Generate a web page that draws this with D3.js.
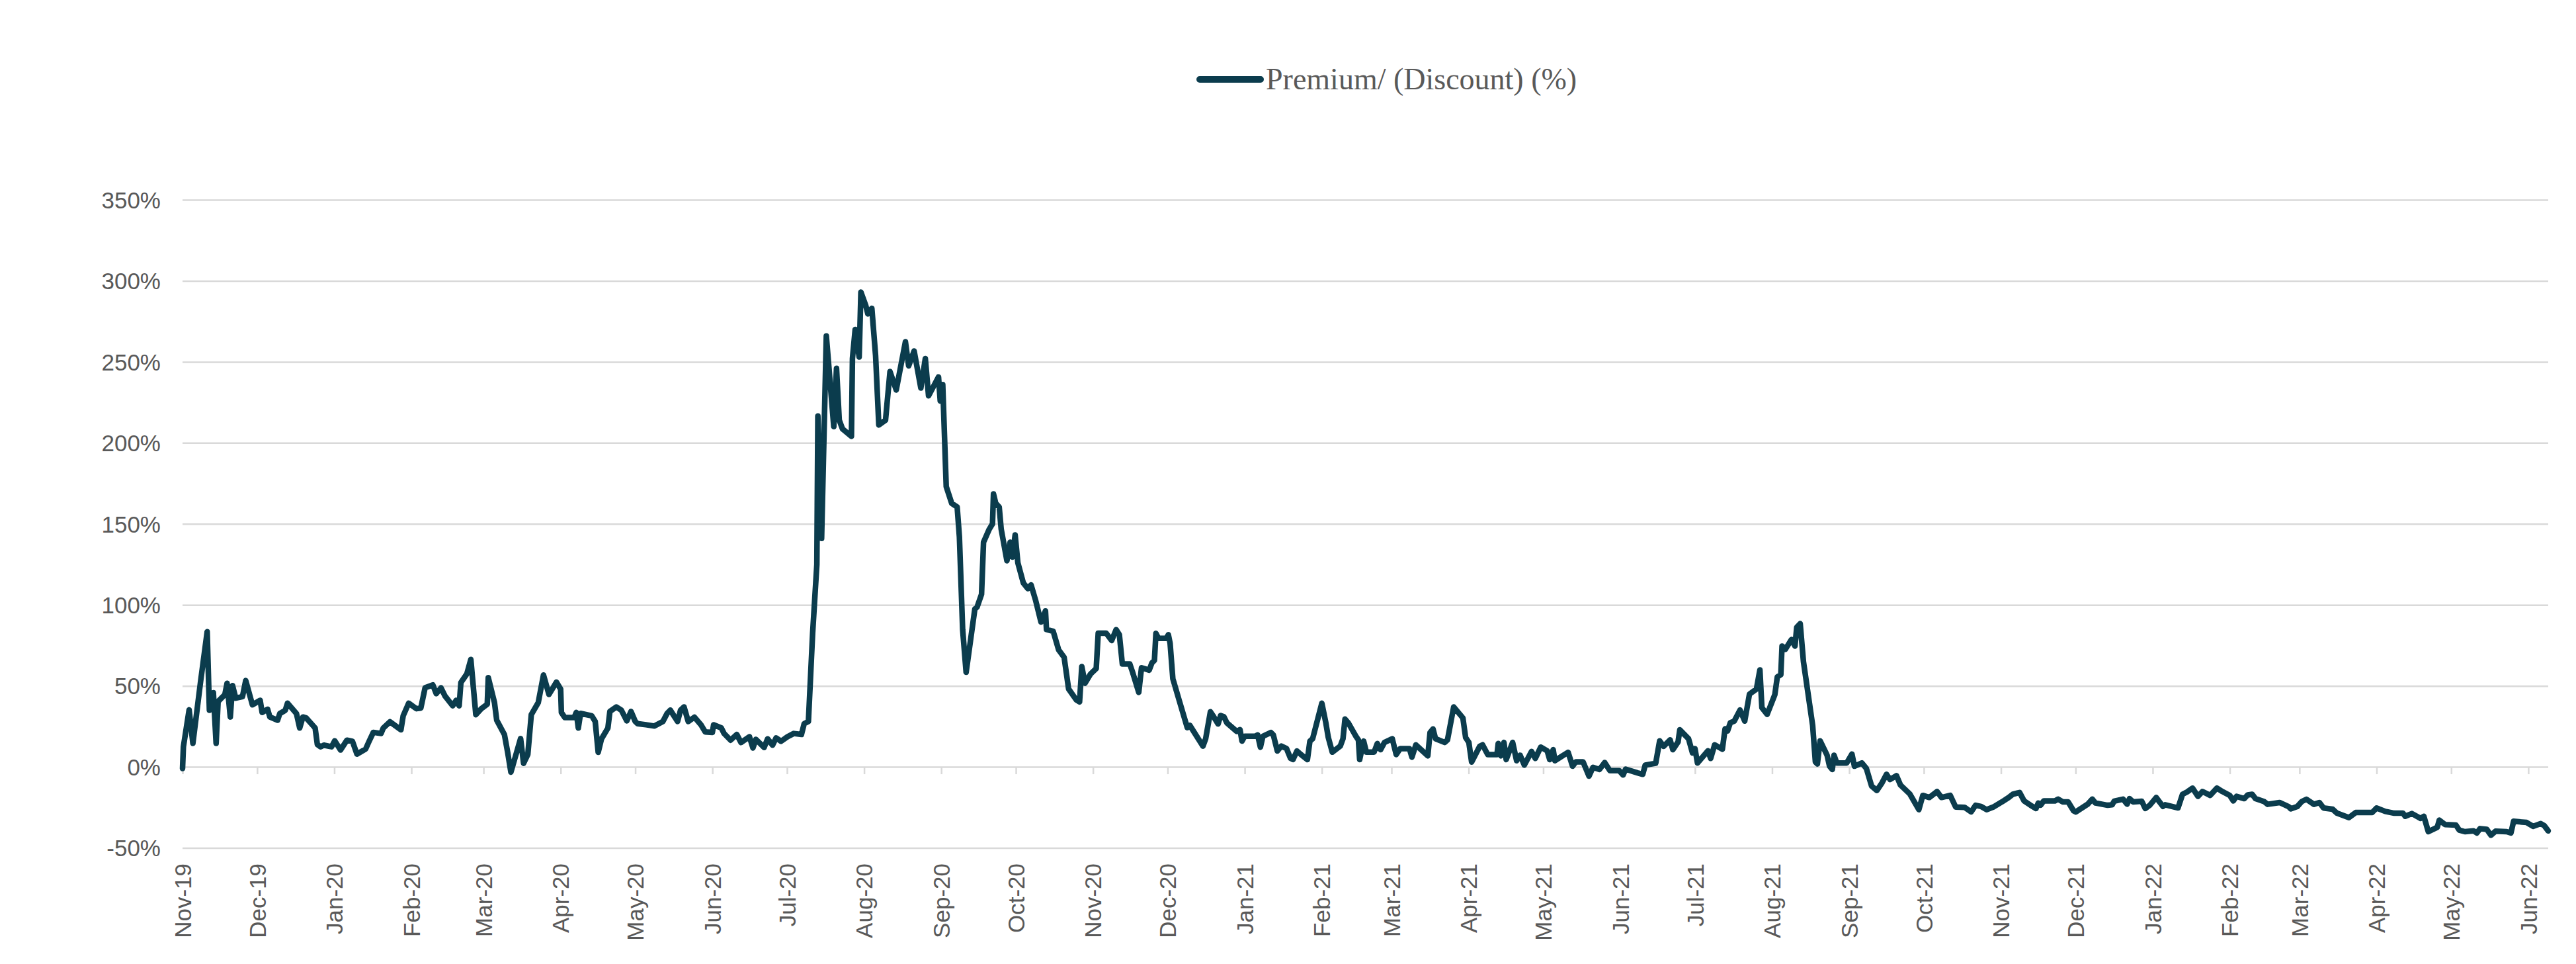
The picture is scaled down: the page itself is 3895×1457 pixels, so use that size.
<!DOCTYPE html>
<html>
<head>
<meta charset="utf-8">
<script src="https://cdn.jsdelivr.net/npm/d3@7/dist/d3.min.js"></script>
<style>
  html, body { margin: 0; padding: 0; background: #ffffff; }
  svg { display: block; }
</style>
</head>
<body>
<svg id="chart" width="3895" height="1457"></svg>
<script>
// ---------------- DATA ----------------
const seriesName = "Premium/ (Discount) (%)";
const startDate = "2019-11-01";
const endDay = 951;

// days elapsed since startDate for each observation
const dayOffsets = [
  0, 0.35, 2.65, 4.16, 7.26, 9.91, 10.8, 12.4, 13.5, 14.3, 17, 17.9, 19.2, 20.1, 21.4, 24.1, 25.4, 28.1, 31.2, 32,
  34.2, 35.1, 38.2, 39.1, 41.3, 42.2, 45.8, 47.1, 48.4, 49.7, 53.3, 54.2, 55.5, 56.8, 59.9, 61.2, 63.5, 66.1, 68.3, 70.1,
  73.6, 75, 76.7, 79.8, 80.7, 83.4, 87.8, 88.7, 90.9, 94, 95.8, 97.5, 100.6, 102, 103.9, 105.5, 108.6, 110, 111.2, 111.9,
  114.3, 115.9, 117.9, 120.1, 122.5, 122.9, 125.4, 126.3, 129.4, 130.7, 132, 133.8,
  135.9, 137.1, 138.8, 140.2, 143, 145.1, 147.3, 150.3, 152, 152.3, 153.7, 157.4, 158.3, 159.1, 160, 164.5, 165.9, 167.1,
  168.4, 171, 171.8, 174.4, 176.4, 178.6, 180.3, 182, 182.9, 186.3, 189.7, 193.1, 194.8, 196.1, 199, 200.2, 201.6, 203.3,
  205.8, 208.4, 210.1, 213, 213.5, 216.6, 217.7, 220.3, 222.8, 224.5, 227.9, 229.3, 230.5, 233.8, 235.2, 237.2, 238.6, 240.6,
  243.2, 245.7, 248.8, 249.9, 251.6,
  253.3, 255.0, 255.4, 256.9, 258.8, 261.8, 262.9, 264, 265.3, 268.9, 269.3, 270.4, 272, 272.7, 274.6, 275.5, 277.1, 278.6,
  279.9, 282.6, 284.4, 286.9, 290.6, 291.9, 294.1, 296.8, 298.6, 299.9, 303.9, 304.6, 305.6, 307, 309.2, 311.4, 312.3, 313.6,
  315, 318.5, 319.4, 321.2, 322, 324.3, 325.6, 326, 326.9, 328.3, 329.1, 331.4, 332.7, 333.6, 334.7, 335.8, 338, 339.8,
  341.1, 342.9, 345.1, 346.9, 347.3, 350, 352.2, 354.4, 356.2, 359.3, 360.6, 361.5, 362.8, 365, 367.3, 368.1, 371.3, 373.5,
  375.3, 376.6, 377.8, 380.8, 381.8, 384.4, 385.5, 388.6, 389.7, 390.7, 391.3, 392.3, 395.5, 396.3, 397, 398.1, 400.7, 403.9,
  404.9, 410.2, 411.3, 413.2, 414.5, 416.3, 417.3, 418.6, 419.8, 423.8, 425.1, 425.9, 427, 431.2, 432.2, 433.3, 434.3, 437.5,
  438.5, 440.1, 441.7, 443.8, 445.4, 446.4, 448, 449.6, 452.2, 453.2, 454.3, 458, 459.6, 460.6, 462.2, 465.4, 466.5, 467.3,
  468.6, 471.7, 472.7, 473.2, 474.8, 475.9, 479, 480.3, 481.6, 483.2, 486.3, 487.9, 489.5, 493.2, 494.2, 495.8, 500.6, 501.5,
  502.7, 503.7, 507.4, 508.5, 511, 514.7, 515.8, 517.1, 518.2, 521.5, 522.6, 524.7, 528.4, 528.9, 530, 531.2, 532.1, 534.7,
  536.3, 537.7, 539.4, 542.3, 543.8, 546, 548.6, 549.6, 551, 551.7, 553.8, 557, 558.8, 560.1, 563, 565.4, 567, 569.6,
  571.7, 573.8, 577.5, 579.1, 580.1, 584.9, 587, 588, 592.2, 593.8, 595.4, 598, 599.1, 601.2, 601.9, 605.4, 607, 608,
  609, 613.2, 614.3, 615.9, 619, 620.1, 621.1, 622.2, 623.8, 626.1, 628, 629.9, 632.7, 634.1, 634.9, 637, 640.1, 641.1,
  642.5, 643, 644.3, 646.8, 648.2, 648.9, 650.3, 651.6, 655.3, 656.4, 657.2, 658.3, 661.1, 662.1, 663.2, 663.9, 665, 669,
  671.1, 672.1, 675.1, 676.9, 679, 681.1, 683.2, 685, 686.4, 689, 690.6, 694.3,
  698, 699.6, 702.2, 705.3, 707.1, 710.6, 712.8, 716.4, 719, 720.8, 723, 725.2, 727.9, 731.4, 734.1, 735.8, 738.5, 740.3,
  742.9, 745.1, 746, 746.9, 748.2, 752.7, 754, 755.8, 758, 760.2, 761.1, 765.9, 767.7, 769, 773.9, 775.7, 776.5, 780.1,
  781.7, 782.7, 784.1, 787.6, 789, 790.8, 793.4, 796.1, 797, 802.2, 804, 805.8, 808, 810.2, 812, 815.1, 817.8, 820,
  823, 824.4, 825.7, 828.8,
  830.2, 832, 833.3, 836.8, 838.2, 843, 846.6, 847.5, 850.1, 851.9, 853.8, 856.8, 859, 860.7, 864.3, 866.1, 870.9, 873.6,
  880.2, 882, 885.5, 889.1, 892.6, 893.5, 896.2, 899.7, 901, 902.8, 906.4, 907.2, 909.5, 913.9, 915.2, 917.5, 921, 922.3,
  923.6, 926.3, 928, 929.8, 934.3, 936, 937.1, 942.3, 944.9, 948, 949.4, 951
];

// Premium/(Discount) in %
const premium = [
  -1, 12.4, 35.2, 14.5, 52.7, 83.4, 34.9, 45.8, 14.5, 40.4, 44.5, 51.6, 30.8, 50.2, 42.4, 43.4, 53.3, 38.3, 41.1, 33.6,
  35.6, 30.8, 28.8, 32.9, 34.9, 39.3, 32.9, 24, 30.8, 30.2, 24, 13.8, 12.4, 13.4, 12.4, 16.1, 10.4, 16.5, 15.8, 7.9,
  11, 15.8, 21.3, 20.6, 24, 27.8, 22.9, 31.5, 39.3, 35.9, 36.3, 48.8, 50.6, 45.2, 48.8, 43.8, 37.7, 41.1, 37.7, 52,
  57.4, 66.3, 32.2, 35.9, 38.7, 55.1, 39.7, 28.8, 19.9, 9, -3.3, 6.3,
  17.5, 2.2, 7.6, 32.2, 39.7, 56.7, 44.7, 52.3, 48, 33.6, 30.4, 30.4, 33.6, 24, 33, 31.5, 28, 9,
  17.2, 24, 34.2, 37, 35, 28.4, 34.2, 28, 26.7, 26, 25.2, 28, 33, 35, 28, 35, 37, 28,
  30.7, 26, 21.6, 21.3, 26, 24, 20.6, 16.5, 20, 15, 18.6, 11.7, 17, 12, 17.3, 13.4, 17.9, 15.8,
  18.6, 20.6, 20, 26.7, 28,
  82.5, 125, 216.6, 141, 266, 210, 246, 214, 208.6, 204, 252, 270, 253, 293, 285, 279.6, 283, 254,
  211, 214, 244, 232.6, 262.4, 247.5, 256.7, 233.8, 252, 229, 240.7, 225.8, 236, 173, 162.7, 160.4, 142, 84.8,
  58.4, 97.4, 98.6, 106.6, 138.7, 146.7, 150, 168.5, 162.7, 160.4, 146.7, 127.2, 138.7, 129.5, 143.2, 126, 113.5, 110,
  112.3, 103, 89.4, 96.3, 84.8, 83.7, 72.2, 67.6, 48.1, 41.3, 40.1, 61.9, 51.6, 57.3, 60.7, 82.5, 82.5, 78,
  84.7, 81.6, 63.5, 63.5, 59, 46, 61.2, 59.7, 64.2, 65.8, 82.4, 79.4, 79.4, 81.6, 76.3, 54.4, 40.8, 24.2,
  25.7, 12.8, 17.4, 34, 31, 26.5, 31.7, 31, 27.2, 21.9, 23, 15.9, 18.9, 18.9, 19.7, 12.1, 18.9, 21.2,
  19.7, 9.8, 12.8, 11.3, 5.3, 4.5, 9.8, 7.6, 4.5, 15.9, 17.4, 39.3, 27.2, 18.1, 9.1, 12.8, 17.4, 29.5,
  27.2, 18.9, 16.6, 4.5, 15.9, 9.1, 9.1, 14.4, 10.6, 15.1, 17.4, 7.6, 11.3, 11.3, 6, 13.6, 6.8, 21.2,
  23.4, 17.4, 15.1, 16.6, 37, 30.2, 18.1, 15.1, 3, 12.8, 13.6, 7.6, 7.6, 14.4, 6.8, 15.1, 4.5, 15.1,
  3.8, 7.2, 1.1, 9.5, 5.2, 12.2, 9.9, 4.5, 10.6, 3.8, 5.9, 9, 0.4, 3.1, 3.1, -5.7, -0.3, -1.6,
  2.7, -2.3, -2.3, -5, -1.4, -3.7, -4.6, 1.1, 2.2, 16.1, 12.7, 16.7, 10.6, 15.4, 22.9, 17.4, 8.6, 11.3,
  2.4, 9.9, 5.2, 13.6, 10.9, 23.5, 22.2, 27.2, 28.3, 35.1, 28.3, 44.9, 48, 59.9, 36.5, 32.4, 44.6, 55.5,
  56.9, 74.6, 72.5, 78.6, 74.6, 86.1, 88.4, 65, 25.6, 3.1, 1.8, 16.1, 7.2, 0.4, -1.6, 7.2, 2.4, 2.4,
  7.9, 0.4, 2.4, -1, -11.8, -14.6, -9.8, -4.6, -7.8, -5.4, -11.2, -16.6,
  -26.4, -17.6, -18.9, -15.2, -18.9, -17.6, -24.8, -25, -27.8, -23.7, -24.4, -26.4, -24.8, -21.6, -18.9, -16.9, -15.8, -21,
  -23.7, -25.7, -22.3, -23.7, -21, -21, -19.9, -21.6, -21.6, -27.1, -27.8, -23, -19.9, -22.3, -23.7, -23.4, -21.2, -19.9,
  -23, -19.6, -21.6, -21.2, -25.7, -23.7, -18.9, -24.4, -23.4, -25.3, -16.9, -15.5, -13.1, -18.2, -15.2, -17.6, -13.1, -15.2,
  -17.6, -21, -18.2, -19.6,
  -17.3, -16.9, -19.6, -21.4, -23.1, -22, -24.5, -25.9, -24.5, -21.4, -20, -23.1, -22, -25.4, -26.1, -28.6, -31.3, -28.2,
  -28.2, -25.4, -27.5, -28.6, -28.6, -30.5, -28.8, -31.8, -30.5, -40, -37.3, -32.9, -35.6, -35.9, -39, -40, -39.5, -40.8,
  -38.1, -38.6, -42.2, -39.7, -40, -40.8, -33.6, -34.3, -36.7, -35, -36.3, -39.5
];

const yTicks = [-50, 0, 50, 100, 150, 200, 250, 300, 350];
const xTickMonths = [
  "2019-11-01","2019-12-01","2020-01-01","2020-02-01","2020-03-01","2020-04-01","2020-05-01","2020-06-01",
  "2020-07-01","2020-08-01","2020-09-01","2020-10-01","2020-11-01","2020-12-01","2021-01-01","2021-02-01",
  "2021-03-01","2021-04-01","2021-05-01","2021-06-01","2021-07-01","2021-08-01","2021-09-01","2021-10-01",
  "2021-11-01","2021-12-01","2022-01-01","2022-02-01","2022-03-01","2022-04-01","2022-05-01","2022-06-01"
];

// ---------------- CHART ----------------
const DAY = 86400000;
const t0 = Date.parse(startDate + "T00:00:00Z");
const data = dayOffsets.map((d, i) => ({ date: new Date(t0 + d * DAY), value: premium[i] }));

const lineColor = "#0b3c4d";
const textColor = "#595959";
const gridColor = "#d9d9d9";

const plot = { left: 276, right: 3853, top: 302, bottom: 1281.5 };

const x = d3.scaleUtc()
  .domain([new Date(t0), new Date(t0 + endDay * DAY)])
  .range([plot.left, plot.right]);

const y = d3.scaleLinear()
  .domain([-50, 350])
  .range([plot.bottom, plot.top]);

const svg = d3.select("#chart");
svg.append("rect").attr("width", 3895).attr("height", 1457).attr("fill", "#ffffff");

// Y axis with gridlines
const yAxis = svg.append("g")
  .attr("transform", `translate(${plot.left},0)`)
  .call(d3.axisLeft(y)
    .tickValues(yTicks)
    .tickSize(-(plot.right - plot.left))
    .tickPadding(33)
    .tickFormat(d => d + "%"));
yAxis.select(".domain").remove();
yAxis.selectAll(".tick line")
  .attr("stroke", gridColor)
  .attr("stroke-width", 2.5);
yAxis.selectAll(".tick text")
  .attr("fill", textColor)
  .attr("font-family", "'Liberation Sans', Arial, sans-serif")
  .attr("font-size", 35)
  .attr("dy", "0.35em");

// X axis (crossing at 0%)
const xAxis = svg.append("g")
  .attr("transform", `translate(0,${y(0)})`)
  .call(d3.axisBottom(x)
    .tickValues(xTickMonths.map(s => new Date(Date.parse(s + "T00:00:00Z"))))
    .tickSize(11)
    .tickFormat(d3.utcFormat("%b-%y")));
xAxis.select(".domain").remove();
xAxis.selectAll(".tick line")
  .attr("stroke", gridColor)
  .attr("stroke-width", 2.5);
xAxis.selectAll(".tick text")
  .attr("fill", textColor)
  .attr("font-family", "'Liberation Sans', Arial, sans-serif")
  .attr("font-size", 35)
  .attr("text-anchor", "end")
  .attr("x", 0)
  .attr("y", 0)
  .attr("dy", "0.35em")
  .attr("transform", `translate(0,${1305 - y(0)}) rotate(-90)`);

// Line
const line = d3.line()
  .x(d => x(d.date))
  .y(d => y(d.value));

svg.append("path")
  .datum(data)
  .attr("d", line)
  .attr("fill", "none")
  .attr("stroke", lineColor)
  .attr("stroke-width", 8.5)
  .attr("stroke-linejoin", "round")
  .attr("stroke-linecap", "round");

// Legend
const legend = svg.append("g");
legend.append("line")
  .attr("x1", 1814).attr("x2", 1906)
  .attr("y1", 120).attr("y2", 120)
  .attr("stroke", lineColor)
  .attr("stroke-width", 10)
  .attr("stroke-linecap", "round");
legend.append("text")
  .attr("x", 1914)
  .attr("y", 135)
  .attr("fill", textColor)
  .attr("font-family", "'Liberation Serif', 'Times New Roman', serif")
  .attr("font-size", 46)
  .text(seriesName);
</script>
</body>
</html>
